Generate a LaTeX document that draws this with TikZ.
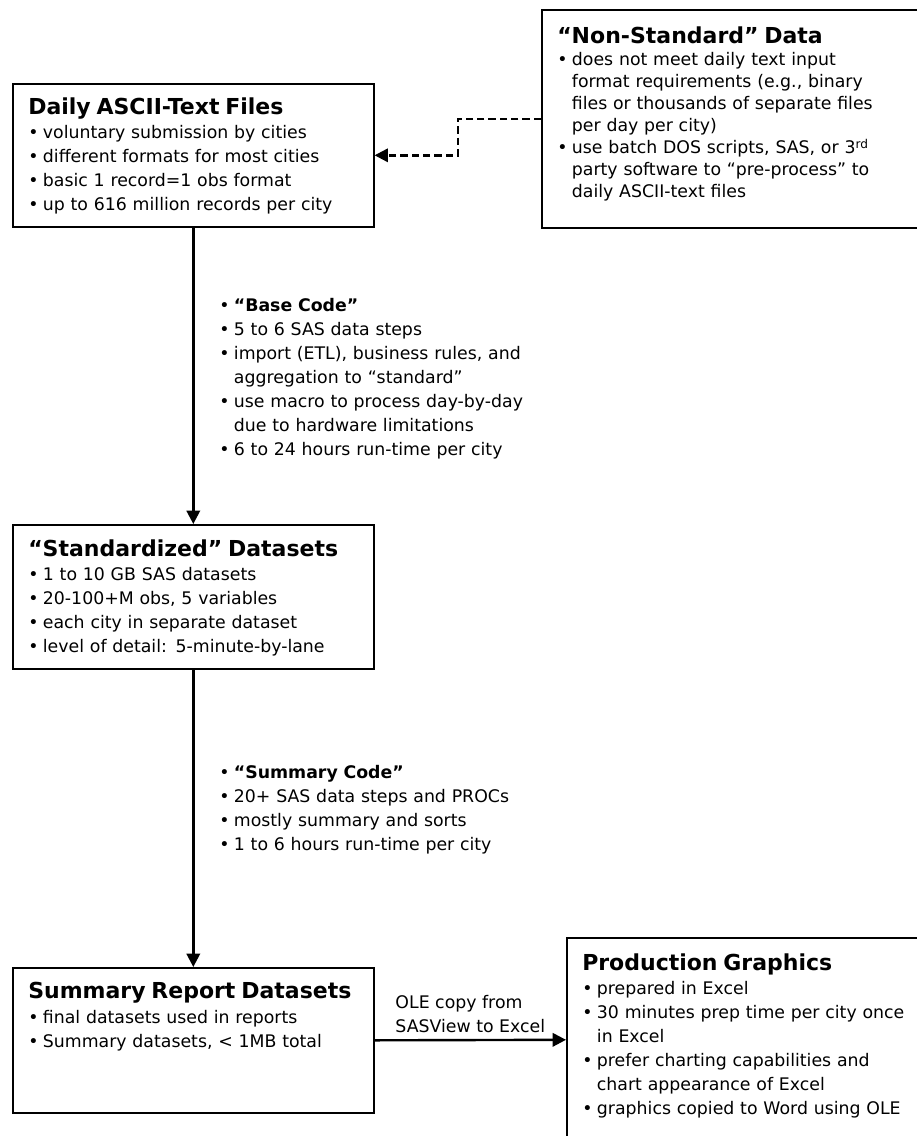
\documentclass[tikz,border=0pt]{standalone}
\usepackage{fontspec}
\setmainfont{DejaVu Sans}
\usetikzlibrary{arrows.meta,calc}
\newlength\bulw
\setlength\bulw{11pt}
\newcommand\itm{\par\hangindent=\bulw\hangafter=1\noindent\makebox[\bulw][l]{\textbullet}}
\newcommand\boxtitle[1]{{\fontsize{16.5}{18}\selectfont\bfseries #1}}
\tikzset{
  datbox/.style={draw=black, line width=1.2pt, anchor=north west,
                 inner sep=0pt},
  boxtext/.style={anchor=north west, inner sep=0pt, text width=#1,
                  align=left, font=\fontsize{13}{18}\selectfont},
  flow/.style={-{Triangle[length=10pt,width=10pt]}, line width=1.8pt},
  dashflow/.style={flow, dash pattern=on 5.5pt off 3pt},
  olelab/.style={above, inner sep=4.5pt, align=left,
                 font=\fontsize{13}{18}\selectfont},
}

\begin{document}
\begin{tikzpicture}[x=0.75pt,y=-0.75pt]
  \path[use as bounding box] (0,0) rectangle (917,1136);
  \clip (0,0) rectangle (917,1136);

  % boxes
  \node[datbox, minimum width=361*0.75pt, minimum height=143*0.75pt] (daily) at (12,83) {};
  \node[datbox, minimum width=400*0.75pt, minimum height=218*0.75pt] (nonstd) at (541,9) {};
  \node[datbox, minimum width=361*0.75pt, minimum height=144*0.75pt] (std) at (12,524) {};
  \node[datbox, minimum width=361*0.75pt, minimum height=145*0.75pt] (sumrep) at (12,967) {};
  \node[datbox, minimum width=400*0.75pt, minimum height=204*0.75pt] (prod) at (566,937) {};

  % box texts
  \node[boxtext=250pt] (dailytxt) at (28,98)
    {\boxtitle{Daily ASCII-Text Files}
     \itm voluntary submission by cities
     \itm different formats for most cities
     \itm basic 1 record=1 obs format
     \itm up to 616 million records per city\par};
  \node[boxtext=330pt, font=\fontsize{13}{16.5}\selectfont] (nonstdtxt) at (557,27)
    {\boxtitle{“Non-Standard” Data}
     \itm does not meet daily text input\newline
          format requirements (e.g., binary\newline
          files or thousands of separate files\newline
          per day per city)
     \itm use batch DOS scripts, SAS, or 3\textsuperscript{rd}\newline
          party software to “pre-process” to\newline
          daily ASCII-text files\par};
  \node[boxtext=250pt] (stdtxt) at (28,540)
    {\boxtitle{“Standardized” Datasets}
     \itm 1 to 10 GB SAS datasets
     \itm 20-100+M obs, 5 variables
     \itm each city in separate dataset
     \itm level of detail: 5-minute-by-lane\par};
  \node[boxtext=250pt, font=\fontsize{13}{18.5}\selectfont] (sumreptxt) at (28,982)
    {\boxtitle{Summary Report Datasets}
     \itm final datasets used in reports
     \itm Summary datasets, < 1MB total\par};
  \node[boxtext=300pt] (prodtxt) at (582,954)
    {\boxtitle{Production Graphics}
     \itm prepared in Excel
     \itm 30 minutes prep time per city once\newline
          in Excel
     \itm prefer charting capabilities and\newline
          chart appearance of Excel
     \itm graphics copied to Word using OLE\par};

  % step notes
  \node[boxtext=300pt] (basecode) at (219,287)
    {\itm {\bfseries “Base Code”}
     \itm 5 to 6 SAS data steps
     \itm import (ETL), business rules, and\newline
          aggregation to “standard”
     \itm use macro to process day-by-day\newline
          due to hardware limitations
     \itm 6 to 24 hours run-time per city\par};
  \node[boxtext=300pt] (sumcode) at (219,754)
    {\itm {\bfseries “Summary Code”}
     \itm 20+ SAS data steps and PROCs
     \itm mostly summary and sorts
     \itm 1 to 6 hours run-time per city\par};

  % connectors
  \coordinate (bend) at ($(daily.east)!0.5!(nonstd.west)$);
  \draw[dashflow] (nonstd.west) -| (bend) |- (daily.east);
  \draw[flow] (daily.south) -- (std.north);
  \draw[flow] (std.south) -- (sumrep.north);
  \draw[flow] (sumrep.east) -- node[olelab] (ole) {OLE copy from\\SASView to Excel} (prod.west);
\end{tikzpicture}
\end{document}
